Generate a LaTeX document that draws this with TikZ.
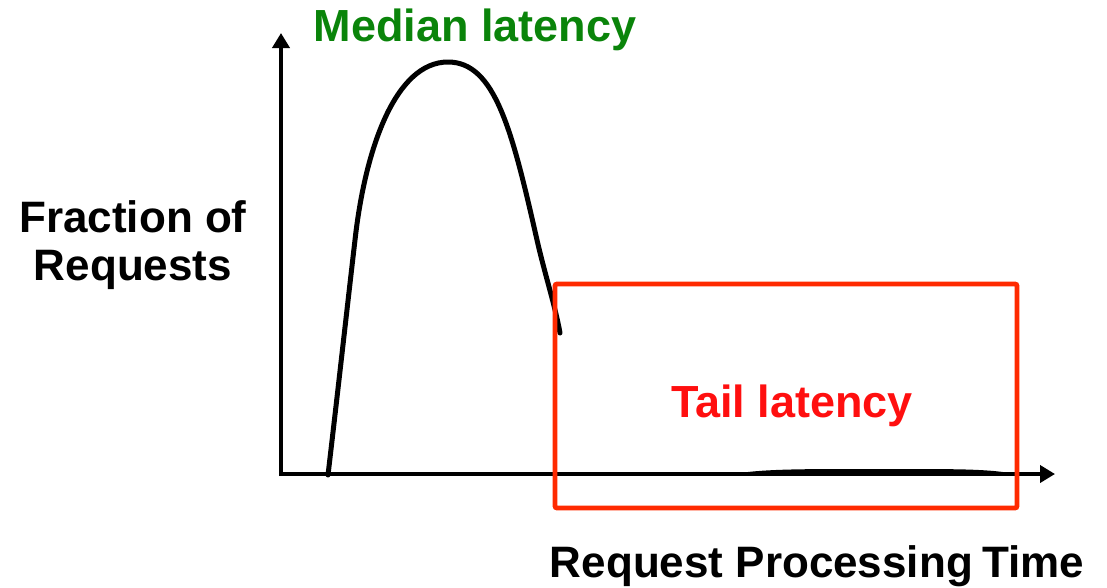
\documentclass[tikz,border=0pt]{standalone}
\usepackage{fontspec}
\setmainfont{Liberation Sans}
\usetikzlibrary{arrows.meta}
\definecolor{medgreen}{HTML}{0A840A}
\definecolor{tailred}{HTML}{FF0F0F}
\definecolor{boxred}{HTML}{FF2A00}
\tikzset{
  axis/.style={line width=4.8pt, -{Triangle[length=15pt,width=17pt]}},
  curve/.style={line width=5pt, line cap=round, line join=round},
  label/.style={font=\bfseries\fontsize{#1}{#1}\selectfont, inner sep=0pt, anchor=base},
  tailbox/.style={draw=boxred, line width=4.8pt, rounded corners=2pt}
}
\begin{document}
\begin{tikzpicture}[x=1pt,y=-1pt]
\useasboundingbox (0,0) rectangle (1107,587);
% axes
\coordinate (ytip) at (281,33);
\coordinate (xstart) at (279,474);
\coordinate (xtip) at (1055,474);
\draw[axis] (281,476) -- (ytip);
\draw[axis] (xstart) -- (xtip);
% distribution curve
\draw[curve] (328,475) .. controls (338,390) and (348,300) .. (355,240)
  .. controls (365,150) and (395,62) .. (448,62)
  .. controls (495,62) and (512,130) .. (537,240)
  .. controls (545,275) and (555,305) .. (560,333);
% thin tail along the time axis
\fill (748,472) .. controls (770,469.5) and (800,469) .. (850,469)
      -- (950,469.2) .. controls (990,469.6) and (1005,472) .. (1014,474)
      -- (748,474) -- cycle;
% tail region
\draw[tailbox] (555,284) rectangle (1017,508);
% labels
\node[label=45, text=medgreen] (median) at (475,41) {Median latency};
\node[label=45, text=tailred] (tail) at (792,417) {Tail latency};
\node[label=44] (frac) at (133,232) {Fraction of};
\node[label=44] (req) at (133,280) {Requests};
\node[label=44] (xlab) at (817,577) {Request Processing\kern-3pt{} Time};
\end{tikzpicture}
\end{document}
